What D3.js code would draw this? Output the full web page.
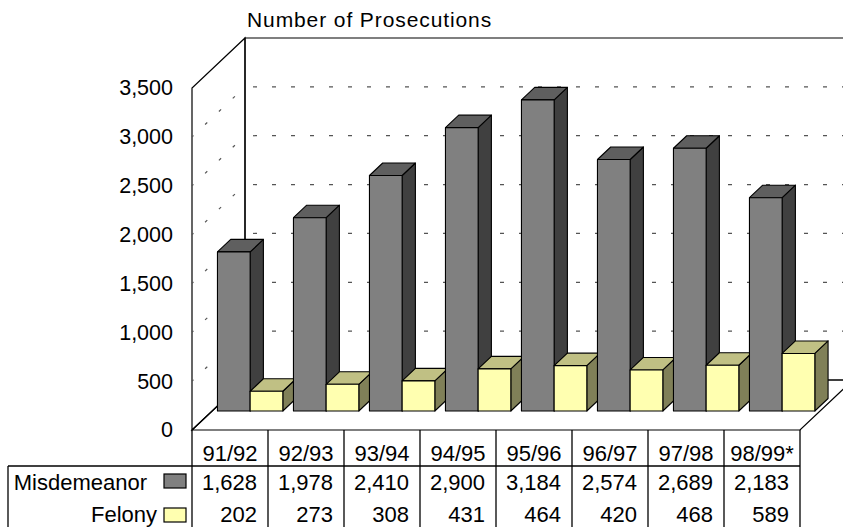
<!doctype html>
<html>
  <head>
    <script src="https://cdn.jsdelivr.net/npm/d3@7/dist/d3.min.js"></script>
    <style>
      body { margin: 0; background: #fff; }
      text { font-family: "Liberation Sans", Arial, sans-serif; fill: #000; }
    </style>
  </head>
  <body>
    <svg id="chart" width="843" height="527"></svg>
    <script>
      var years = ["91/92", "92/93", "93/94", "94/95", "95/96", "96/97", "97/98", "98/99*"];
      var misdemeanor = [1628, 1978, 2410, 2900, 3184, 2574, 2689, 2183];
      var felony = [202, 273, 308, 431, 464, 420, 468, 589];
      var seriesNames = ["Misdemeanor", "Felony"];
      var yTicks = [0, 500, 1000, 1500, 2000, 2500, 3000, 3500];

      // faces: front, top, side
      var faceColors = {
        Misdemeanor: ["#808080", "#5f5f5f", "#404040"],
        Felony: ["#ffffb0", "#c0c084", "#808058"]
      };

      var svg = d3.select("#chart");

      // 3d box: front plane origin, depth vector
      var ox = 192, oy = 430, plotW = 608, plotH = 342;
      var depthX = 53, depthY = -50;
      var barFront = 0.38, barBack = 0.63;

      var x = d3.scaleBand().domain(years).range([0, plotW])
        .paddingInner(0.14).paddingOuter(0.07);
      var col = d3.scaleBand().domain(years).range([0, plotW]);
      var s = d3.scaleBand().domain(seriesNames).range([0, x.bandwidth()]);
      var y = d3.scaleLinear().domain([0, 3500]).range([0, plotH]);

      function pt(px, v, f) {
        return [ox + px + f * depthX, oy - y(v) + f * depthY];
      }
      function poly(points) {
        return "M" + points.map(p => p.join(",")).join("L") + "Z";
      }

      // walls
      var walls = svg.append("g");
      walls.append("path")
        .attr("d", poly([pt(0, 0, 1), pt(0, 3500, 1), pt(plotW, 3500, 1), pt(plotW, 0, 1)]))
        .attr("fill", "none").attr("stroke", "#000").attr("stroke-width", 1.2);
      walls.append("path")
        .attr("d", poly([pt(0, 0, 0), pt(0, 3500, 0), pt(0, 3500, 1), pt(0, 0, 1)]))
        .attr("fill", "none").attr("stroke", "#000").attr("stroke-width", 1.2);
      walls.append("path")
        .attr("d", poly([pt(0, 0, 0), pt(plotW, 0, 0), pt(plotW, 0, 1), pt(0, 0, 1)]))
        .attr("fill", "none").attr("stroke", "#000").attr("stroke-width", 1.2);

      // gridlines
      var grid = yTicks.filter(d => d > 0 && d < 3500);
      walls.selectAll(".gb").data(grid).enter().append("line")
        .attr("x1", d => pt(0, d, 1)[0]).attr("y1", d => pt(0, d, 1)[1])
        .attr("x2", d => pt(plotW, d, 1)[0]).attr("y2", d => pt(plotW, d, 1)[1])
        .attr("stroke", "#555").attr("stroke-width", 1.2)
        .attr("stroke-dasharray", "4,15").attr("stroke-dashoffset", -8);
      walls.selectAll(".gl").data(grid).enter().append("line")
        .attr("x1", d => pt(0, d, 0)[0]).attr("y1", d => pt(0, d, 0)[1])
        .attr("x2", d => pt(0, d, 1)[0]).attr("y2", d => pt(0, d, 1)[1])
        .attr("stroke", "#555").attr("stroke-width", 1.2)
        .attr("stroke-dasharray", "3,16").attr("stroke-dashoffset", -18);

      // bars
      var rows = years.map((yr, i) => ({ year: yr, Misdemeanor: misdemeanor[i], Felony: felony[i] }));
      var bars = svg.append("g");
      rows.forEach(function(r) {
        seriesNames.forEach(function(name) {
          var x0 = x(r.year) + s(name), x1 = x0 + s.bandwidth(), v = r[name];
          var c = faceColors[name];
          var g = bars.append("g").attr("stroke", "#000").attr("stroke-width", 1.1)
            .attr("stroke-linejoin", "round");
          g.append("path").attr("fill", c[2])
            .attr("d", poly([pt(x1, 0, barFront), pt(x1, v, barFront), pt(x1, v, barBack), pt(x1, 0, barBack)]));
          g.append("path").attr("fill", c[1])
            .attr("d", poly([pt(x0, v, barFront), pt(x1, v, barFront), pt(x1, v, barBack), pt(x0, v, barBack)]));
          g.append("path").attr("fill", c[0])
            .attr("d", poly([pt(x0, 0, barFront), pt(x1, 0, barFront), pt(x1, v, barFront), pt(x0, v, barFront)]));
        });
      });

      // y axis
      var yAxis = d3.axisLeft(d3.scaleLinear().domain([0, 3500]).range([oy, oy - plotH]))
        .tickValues(yTicks).tickFormat(d3.format(",")).tickSize(0).tickPadding(19);
      var ya = svg.append("g").attr("transform", "translate(" + ox + ",0)").call(yAxis);
      ya.select(".domain").remove();
      ya.selectAll("text").attr("font-size", 21.5).attr("font-family", '"Liberation Sans", Arial, sans-serif')
        .attr("fill", "#000");

      // title
      svg.append("text").attr("x", 247).attr("y", 27)
        .attr("font-size", 21).attr("letter-spacing", 0.9)
        .text("Number of Prosecutions");

      // data table
      var table = svg.append("g").attr("stroke", "#000").attr("stroke-width", 1.3);
      table.selectAll(".vl").data(d3.range(years.length + 1)).enter().append("line")
        .attr("x1", i => ox + i * col.step()).attr("x2", i => ox + i * col.step())
        .attr("y1", oy).attr("y2", 527);
      table.append("line").attr("x1", 8).attr("x2", ox + plotW).attr("y1", 466).attr("y2", 466);
      table.append("line").attr("x1", 8).attr("x2", 8).attr("y1", 466).attr("y2", 527);

      var tt = svg.append("g").attr("font-size", 22);
      tt.selectAll(".cat").data(years).enter().append("text")
        .attr("x", d => ox + col(d) + col.bandwidth() / 2).attr("y", 461)
        .attr("text-anchor", "middle").text(d => d);
      tt.selectAll(".mv").data(misdemeanor).enter().append("text")
        .attr("x", (d, i) => ox + col(years[i]) + col.bandwidth() - 11).attr("y", 490)
        .attr("text-anchor", "end").text(d => d3.format(",")(d));
      tt.selectAll(".fv").data(felony).enter().append("text")
        .attr("x", (d, i) => ox + col(years[i]) + col.bandwidth() - 11).attr("y", 522)
        .attr("text-anchor", "end").text(d => d3.format(",")(d));

      var labelRight = [147, 157], rowBase = [490, 522], keyTop = [474, 508];
      seriesNames.forEach(function(name, i) {
        tt.append("text").attr("x", labelRight[i]).attr("y", rowBase[i])
          .attr("text-anchor", "end").text(name);
        svg.append("rect").attr("x", 164).attr("y", keyTop[i]).attr("width", 22).attr("height", 14)
          .attr("fill", faceColors[name][0]).attr("stroke", "#000").attr("stroke-width", 1.2);
      });
    </script>
  </body>
</html>
